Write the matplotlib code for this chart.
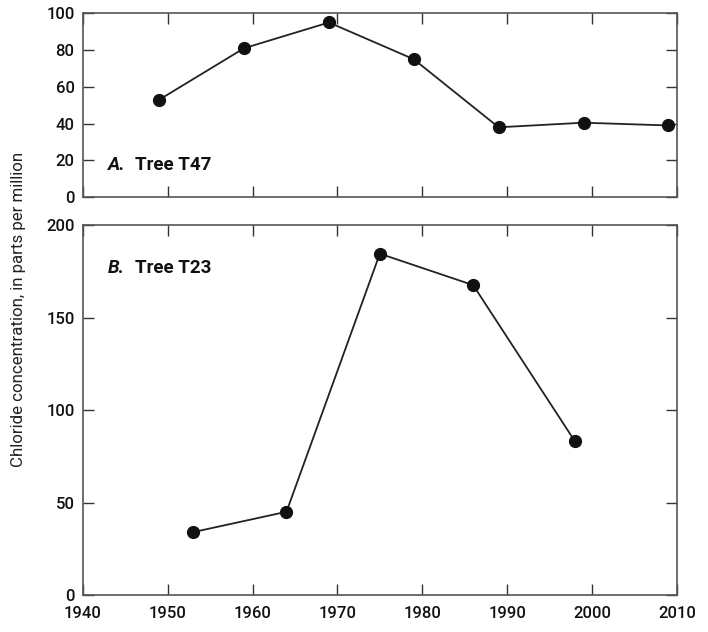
import matplotlib
matplotlib.use("Agg")
import matplotlib.pyplot as plt

plt.rcParams['font.family'] = ['Roboto', 'DejaVu Sans']

# Tree T47
years_a = [1949, 1959, 1969, 1979, 1989, 1999, 2009]
chloride_a = [53, 81, 95, 75, 38, 40.5, 39]
# Tree T23
years_b = [1953, 1964, 1975, 1986, 1998]
chloride_b = [34, 45, 184.5, 167.5, 83]

xticks = [1940, 1950, 1960, 1970, 1980, 1990, 2000, 2010]

fig = plt.figure(figsize=(7.08, 6.32), dpi=100)
ax1 = fig.add_axes([0.117, 0.688, 0.839, 0.291])
ax2 = fig.add_axes([0.117, 0.0585, 0.839, 0.5855])

for ax in (ax1, ax2):
    for s in ax.spines.values():
        s.set_color('#555555')
        s.set_linewidth(1.2)
    ax.set_xlim(1940, 2010)
    ax.set_xticks(xticks)
    ax.tick_params(direction='in', length=8, width=1, color='#333333',
                   top=True, right=True, labelsize=12, labelcolor='#111111')
    ax.tick_params(axis='x', pad=8)
    ax.tick_params(axis='y', pad=6)
    for lab in ax.get_xticklabels() + ax.get_yticklabels():
        lab.set_fontweight('medium')


def panel_label(ax, y, letter, name):
    ax.text(1943, y, letter, fontsize=13.5, fontweight='bold', fontstyle='italic',
            ha='left', va='center', color='#111111')
    ax.annotate(name, xy=(1943, y), xycoords='data', xytext=(19, 0),
                textcoords='offset points', fontsize=13.5, fontweight='bold',
                ha='left', va='center', color='#111111')


ax1.plot(years_a, chloride_a, color='#222222', lw=1.3, marker='o',
         markersize=8.5, markerfacecolor='#111111', markeredgecolor='#111111')
ax1.set_ylim(0, 100)
ax1.set_yticks([0, 20, 40, 60, 80, 100])
ax1.tick_params(labelbottom=False)
panel_label(ax1, 17.5, 'A.', 'Tree T47')

ax2.plot(years_b, chloride_b, color='#222222', lw=1.3, marker='o',
         markersize=8.5, markerfacecolor='#111111', markeredgecolor='#111111')
ax2.set_ylim(0, 200)
ax2.set_yticks([0, 50, 100, 150, 200])
panel_label(ax2, 177, 'B.', 'Tree T23')

fig.text(0.026, 0.51, 'Chloride concentration, in parts per million',
         rotation=90, ha='center', va='center', fontsize=12.2, color='#222222')

fig.savefig('out.png', dpi=100)
